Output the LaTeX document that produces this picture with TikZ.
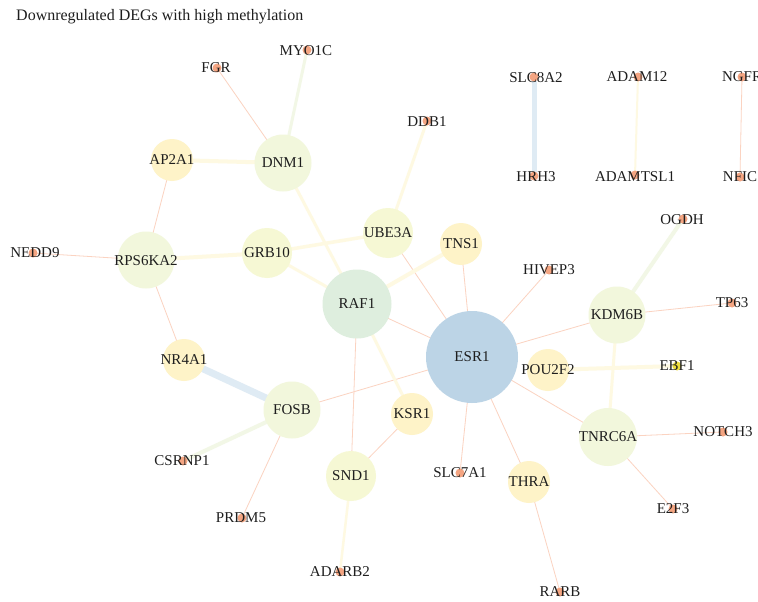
\documentclass[tikz,border=0pt]{standalone}
\usepackage{fontspec}
\setmainfont{Liberation Serif}
\pgfdeclarelayer{back}
\pgfdeclarelayer{bg}
\pgfsetlayers{back,bg,main}
\definecolor{cesr}{RGB}{188,212,230}
\definecolor{craf}{RGB}{222,238,222}
\definecolor{cgy}{RGB}{242,247,220}
\definecolor{cyg}{RGB}{246,248,212}
\definecolor{cyl}{RGB}{254,243,200}
\definecolor{cdot}{RGB}{244,165,130}
\definecolor{cebf}{RGB}{236,220,60}
\definecolor{eor}{RGB}{251,211,193}
\definecolor{eye}{RGB}{254,249,226}
\definecolor{egr}{RGB}{242,247,230}
\definecolor{ebl}{RGB}{223,235,244}
\definecolor{txt}{RGB}{30,30,30}
\tikzset{
  gene/.style={circle, inner sep=0pt, draw=none, fill=#1},
  dotnode/.style={circle, inner sep=0pt, minimum size=9pt, fill=#1},
  lab/.style={font=\fontsize{15}{17}\selectfont, text=txt, inner sep=0pt},
  thin/.style={draw=eor, line width=0.8pt},
  pale/.style={draw=eye, line width=#1},
  paleg/.style={draw=egr, line width=#1},
  paleb/.style={draw=ebl, line width=#1},
}
\begin{document}
\begin{tikzpicture}[x=1pt,y=-1pt]
\useasboundingbox (0,0) rectangle (758,602);
\clip (0,0) rectangle (758,602);
\begin{pgfonlayer}{back}
\fill[white] (0,0) rectangle (758,602);
\end{pgfonlayer}
\node[anchor=base west, font=\fontsize{16}{18}\selectfont, text=txt, inner sep=0pt] (title) at (16,21) {Downregulated DEGs with high methylation};
% big nodes
\node[gene=cesr, minimum size=92pt] (ESR1) at (472,357) {};
\node[gene=craf, minimum size=69pt] (RAF1) at (357,304) {};
\node[gene=cyg, minimum size=50pt] (UBE3A) at (388,233) {};
\node[gene=cyl, minimum size=42pt] (TNS1) at (461,244) {};
\node[gene=cyg, minimum size=50pt] (GRB10) at (267,253) {};
\node[gene=cgy, minimum size=57pt] (FOSB) at (292,410) {};
\node[gene=cyl, minimum size=42pt] (KSR1) at (412,414) {};
\node[gene=cyg, minimum size=50pt] (SND1) at (351,476) {};
\node[gene=cyl, minimum size=42pt] (THRA) at (529,482) {};
\node[gene=cgy, minimum size=58pt] (TNRC6A) at (608,437) {};
\node[gene=cyl, minimum size=42pt] (POU2F2) at (548,370) {};
\node[gene=cgy, minimum size=57pt] (KDM6B) at (617,315) {};
\node[gene=cyl, minimum size=42pt] (NR4A1) at (184,360) {};
\node[gene=cgy, minimum size=57pt] (RPS6KA2) at (146,260) {};
\node[gene=cyl, minimum size=42pt] (AP2A1) at (172,160) {};
\node[gene=cgy, minimum size=57pt] (DNM1) at (283,163) {};
% small nodes
\node[dotnode=cdot] (MYO1C) at (307,50) {};
\node[dotnode=cdot] (FGR) at (217,68) {};
\node[dotnode=cdot] (DDB1) at (427,121) {};
\node[dotnode=cdot] (SLC8A2) at (534,77) {};
\node[dotnode=cdot] (HRH3) at (534,176) {};
\node[dotnode=cdot] (ADAM12) at (638,77) {};
\node[dotnode=cdot] (ADAMTSL1) at (635,175) {};
\node[dotnode=cdot] (NGFR) at (742,77) {};
\node[dotnode=cdot] (NFIC) at (740,177) {};
\node[dotnode=cdot] (NEDD9) at (33,253) {};
\node[dotnode=cdot] (OGDH) at (683,219) {};
\node[dotnode=cdot] (HIVEP3) at (549,270) {};
\node[dotnode=cdot] (TP63) at (732,303) {};
\node[dotnode=cebf] (EBF1) at (677,366) {};
\node[dotnode=cdot] (NOTCH3) at (723,432) {};
\node[dotnode=cdot] (E2F3) at (673,509) {};
\node[dotnode=cdot] (RARB) at (560,592) {};
\node[dotnode=cdot] (SLC7A1) at (460,473) {};
\node[dotnode=cdot] (CSRNP1) at (183,461) {};
\node[dotnode=cdot] (PRDM5) at (242,518) {};
\node[dotnode=cdot] (ADARB2) at (340,572) {};
% labels
\foreach \n/\dx/\dy in {ESR1/0/0, RAF1/0/0, UBE3A/0/0, TNS1/0/0, GRB10/0/0, FOSB/0/0, KSR1/0/0, SND1/0/0, THRA/0/0, TNRC6A/0/0, POU2F2/0/0, KDM6B/0/0, NR4A1/0/0, RPS6KA2/0/1, AP2A1/0/0, DNM1/0/0,
  MYO1C/-1/1, FGR/-1/0, DDB1/0/1, SLC8A2/2/1, HRH3/2/1, ADAM12/-1/0, ADAMTSL1/0/2, NGFR/0/0, NFIC/0/0, NEDD9/2/0, OGDH/-1/1, HIVEP3/0/0, TP63/0/0, EBF1/0/0, NOTCH3/0/0, E2F3/0/0, RARB/0/0, SLC7A1/0/0, CSRNP1/-1/0, PRDM5/-1/0, ADARB2/0/0}
  \node[lab] (L\n) at ([shift={(\dx,\dy)}]\n.center) {\n};
\begin{pgfonlayer}{bg}
% thin orange connectors
\foreach \a/\b in {FGR/DNM1, AP2A1/RPS6KA2, NEDD9/RPS6KA2, RPS6KA2/NR4A1, RAF1/ESR1, UBE3A/ESR1, TNS1/ESR1, HIVEP3/ESR1, ESR1/KDM6B, KDM6B/TP63, ESR1/TNRC6A, TNRC6A/NOTCH3, TNRC6A/E2F3, ESR1/THRA, THRA/RARB, ESR1/SLC7A1, ESR1/FOSB, RAF1/SND1, KSR1/SND1, FOSB/PRDM5, NGFR/NFIC}
  \draw[thin] (\a.center) -- (\b.center);
% pale yellow connectors
\draw[pale=4pt] (AP2A1.center) -- (DNM1.center);
\draw[pale=3pt] (DNM1.center) -- (RAF1.center);
\draw[pale=3pt] (DDB1.center) -- (UBE3A.center);
\draw[pale=3.5pt] (GRB10.center) -- (UBE3A.center);
\draw[pale=4pt] (RPS6KA2.center) -- (GRB10.center);
\draw[pale=3pt] (GRB10.center) -- (RAF1.center);
\draw[pale=4pt] (RAF1.center) -- (TNS1.center);
\draw[pale=3pt] (RAF1.center) -- (KSR1.center);
\draw[pale=4pt] (POU2F2.center) -- (EBF1.center);
\draw[pale=3pt] (KDM6B.center) -- (TNRC6A.center);
\draw[pale=2.5pt] (SND1.center) -- (ADARB2.center);
\draw[pale=2pt] (ADAM12.center) -- (ADAMTSL1.center);
% pale green connectors
\draw[paleg=3pt] (MYO1C.center) -- (DNM1.center);
\draw[paleg=4pt] (OGDH.center) -- (KDM6B.center);
\draw[paleg=4pt] (CSRNP1.center) -- (FOSB.center);
% pale blue connectors
\draw[paleb=5pt] (SLC8A2.center) -- (HRH3.center);
\draw[paleb=7pt] (NR4A1.center) -- (FOSB.center);
\end{pgfonlayer}
\end{tikzpicture}
\end{document}
